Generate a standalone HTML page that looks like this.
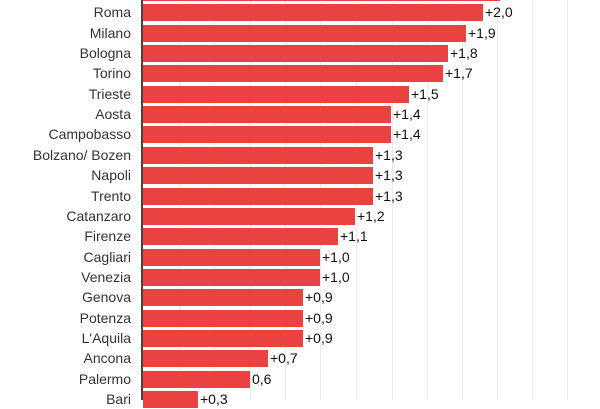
<!DOCTYPE html><html><head><style>
body{margin:0;width:600px;height:400px;overflow:hidden;background:#fff;font-family:"Liberation Sans",sans-serif;}
.r{position:absolute;left:0;height:20px;width:600px}
.l{position:absolute;right:469px;top:2px;font-size:14px;color:#333;white-space:nowrap}
.b{position:absolute;left:143px;top:2px;height:17px;background:#ea4241}
.v{position:absolute;top:2px;font-size:14px;color:#111}
.g{position:absolute;top:0;width:1px;height:400px;background:#ebebeb}
</style></head><body>
<div class="g" style="left:179px"></div><div class="g" style="left:214px"></div><div class="g" style="left:250px"></div><div class="g" style="left:285px"></div><div class="g" style="left:320px"></div><div class="g" style="left:356px"></div><div class="g" style="left:392px"></div><div class="g" style="left:427px"></div><div class="g" style="left:462px"></div><div class="g" style="left:497px"></div><div class="g" style="left:532px"></div><div class="g" style="left:567px"></div>
<div style="position:absolute;left:141px;top:0;width:2px;height:400px;background:#444"></div>
<div id="c"></div>
<script>
var d=[["Bergamo",500,"+2,1"],["Roma",483,"+2,0"],["Milano",466,"+1,9"],["Bologna",448,"+1,8"],["Torino",443,"+1,7"],["Trieste",409,"+1,5"],["Aosta",391,"+1,4"],["Campobasso",391,"+1,4"],["Bolzano/ Bozen",373,"+1,3"],["Napoli",373,"+1,3"],["Trento",373,"+1,3"],["Catanzaro",355,"+1,2"],["Firenze",338,"+1,1"],["Cagliari",320,"+1,0"],["Venezia",320,"+1,0"],["Genova",303,"+0,9"],["Potenza",303,"+0,9"],["L'Aquila",303,"+0,9"],["Ancona",268,"+0,7"],["Palermo",250,"0,6"],["Bari",198,"+0,3"]];
var h="";d.forEach(function(e,i){var y=-18+i*20.35;h+='<div class="r" style="top:'+y+'px"><span class="l">'+e[0]+'</span><div class="b" style="width:'+(e[1]-143)+'px"></div><span class="v" style="left:'+(e[1]+2)+'px">'+e[2]+'</span></div>';});
document.getElementById("c").innerHTML=h;
</script>
</body></html>
